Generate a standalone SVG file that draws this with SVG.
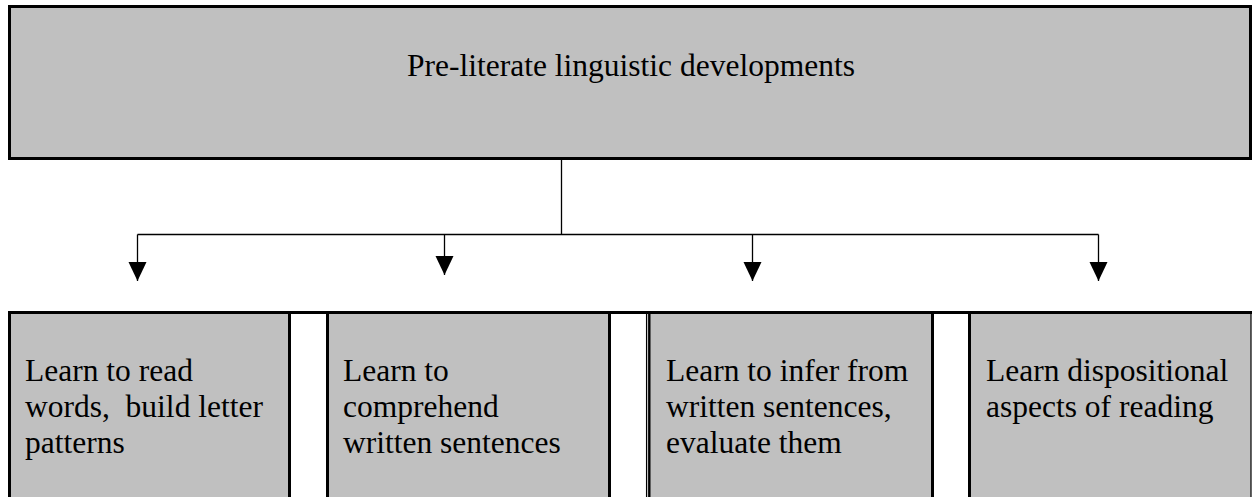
<svg xmlns="http://www.w3.org/2000/svg" width="1252" height="497" viewBox="0 0 1252 497">
<style>
.box{fill:#c0c0c0;stroke:none}
.edge{stroke:#000;stroke-width:3;fill:none}
.conn{stroke:#000;stroke-width:1.3;fill:none}
.t{font-family:"Liberation Serif","Times New Roman",serif;font-size:31.5px;fill:#000;white-space:pre}
</style>
<defs>
<marker id="arr" markerUnits="userSpaceOnUse" markerWidth="20" markerHeight="20" refX="19" refY="9" orient="auto" viewBox="0 0 20 18">
<path d="M0,0 L19,9 L0,18 Z" fill="#000"/>
</marker>
</defs>
<rect width="1252" height="497" fill="#fff"/>
<g id="top">
<rect class="box" x="9.5" y="6.5" width="1241" height="152"/>
<rect class="edge" x="9.5" y="6.5" width="1241" height="152"/>
<text class="t" x="631" y="76" text-anchor="middle">Pre-literate linguistic developments</text>
</g>
<g id="connectors">
<path class="conn" d="M561.5,158 V234.5 M137.5,234.5 H1098.5"/>
<path class="conn" d="M137.5,234.5 V281" marker-end="url(#arr)"/>
<path class="conn" d="M444.5,234.5 V275" marker-end="url(#arr)"/>
<path class="conn" d="M752.5,234.5 V281" marker-end="url(#arr)"/>
<path class="conn" d="M1098.5,234.5 V281" marker-end="url(#arr)"/>
</g>
<g id="bottom-line">
<line class="edge" x1="8" y1="312.5" x2="1252" y2="312.5"/>
</g>
<g id="box1">
<rect class="box" x="11" y="314" width="277" height="183"/>
<line class="edge" x1="9.5" y1="311" x2="9.5" y2="497"/>
<line class="edge" x1="289.5" y1="311" x2="289.5" y2="497"/>
<text class="t" x="25" y="380.5">Learn to read</text>
<text class="t" x="25" y="416.5">words,  build letter</text>
<text class="t" x="25" y="452.5">patterns</text>
</g>
<g id="box2">
<rect class="box" x="329" y="314" width="279" height="183"/>
<line class="edge" x1="327.5" y1="311" x2="327.5" y2="497"/>
<line class="edge" x1="609.5" y1="311" x2="609.5" y2="497"/>
<text class="t" x="343" y="380.5">Learn to</text>
<text class="t" x="343" y="416.5">comprehend</text>
<text class="t" x="343" y="452.5">written sentences</text>
</g>
<g id="box3">
<rect class="box" x="650" y="314" width="281" height="183"/>
<line x1="646.6" y1="311" x2="646.6" y2="497" stroke="#000" stroke-width="1.3"/>
<line x1="649.3" y1="311" x2="649.3" y2="497" stroke="#000" stroke-width="2.4"/>
<line class="edge" x1="932.5" y1="311" x2="932.5" y2="497"/>
<text class="t" x="666" y="380.5">Learn to infer from</text>
<text class="t" x="666" y="416.5">written sentences,</text>
<text class="t" x="666" y="452.5">evaluate them</text>
</g>
<g id="box4">
<rect class="box" x="971" y="314" width="280" height="183"/>
<line class="edge" x1="969.5" y1="311" x2="969.5" y2="497"/>
<line x1="1251" y1="311" x2="1251" y2="497" stroke="#000" stroke-width="1.2"/>
<text class="t" x="986" y="380.5">Learn dispositional</text>
<text class="t" x="986" y="416.5">aspects of reading</text>
</g>
</svg>
